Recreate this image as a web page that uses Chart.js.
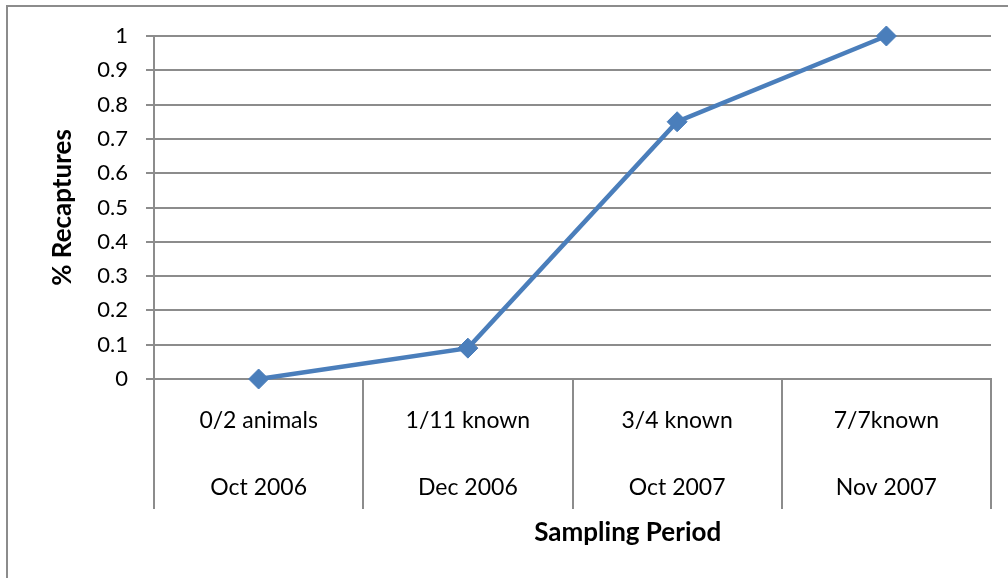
<!DOCTYPE html>
<html>
<head>
<meta charset="utf-8">
<title>% Recaptures by Sampling Period</title>
<script src="https://cdn.jsdelivr.net/npm/chart.js@4/dist/chart.umd.min.js"></script>
<style>
  html, body { margin: 0; padding: 0; background: #ffffff; }
  #wrap { position: relative; width: 1008px; height: 578px; }
</style>
</head>
<body>
<div id="wrap"><canvas id="chart" width="1008" height="578"></canvas></div>
<script>
// Recapture counts per sampling trip
const sampleCounts = ['0/2 animals', '1/11 known', '3/4 known', '7/7known'];
const samplingPeriods = ['Oct 2006', 'Dec 2006', 'Oct 2007', 'Nov 2007'];
const recaptureRate = [0, 0.09, 0.75, 1];

const yAxisTitle = '% Recaptures';
const xAxisTitle = 'Sampling Period';

const FONT = 'Lato, "Open Sans", "DejaVu Sans", sans-serif';
const GRID = '#8c8c8c';
const LINE = '#4a7ebb';

// Two-row category labels: count on top, period below
const labels = sampleCounts.map((c, i) => [c, samplingPeriods[i]]);

// Frame around the chart and the horizontal axis title
const framePlugin = {
  id: 'frame',
  beforeDraw(chart) {
    const ctx = chart.ctx;
    ctx.save();
    ctx.fillStyle = '#ffffff';
    ctx.fillRect(0, 0, chart.width, chart.height);
    ctx.strokeStyle = '#8c8c8c';
    ctx.lineWidth = 2;
    ctx.beginPath();
    ctx.moveTo(7, chart.height + 5);
    ctx.lineTo(7, 6);
    ctx.lineTo(chart.width + 5, 6);
    ctx.stroke();
    ctx.restore();
  },
  afterDraw(chart) {
    const ctx = chart.ctx;
    const area = chart.chartArea;
    ctx.save();
    ctx.fillStyle = '#000000';
    ctx.font = 'bold 26px ' + FONT;
    ctx.textAlign = 'center';
    ctx.textBaseline = 'middle';
    ctx.fillText(xAxisTitle, area.left + (area.right - area.left) * 0.566, area.bottom + 154);
    ctx.restore();
  }
};

new Chart(document.getElementById('chart'), {
  type: 'line',
  data: {
    labels: labels,
    datasets: [{
      data: recaptureRate,
      borderColor: LINE,
      backgroundColor: LINE,
      borderWidth: 4.5,
      pointStyle: 'rectRot',
      pointRadius: 10,
      pointHoverRadius: 10,
      pointBackgroundColor: LINE,
      pointBorderColor: LINE,
      pointBorderWidth: 1,
      tension: 0,
      fill: false,
      clip: false
    }]
  },
  options: {
    responsive: false,
    animation: false,
    events: [],
    layout: { padding: { top: 36, right: 17, bottom: 0, left: 0 } },
    plugins: {
      legend: { display: false },
      tooltip: { enabled: false },
      title: { display: false }
    },
    scales: {
      x: {
        type: 'category',
        offset: true,
        grid: {
          display: true,
          offset: true,
          drawOnChartArea: false,
          drawTicks: true,
          tickLength: 130,
          color: GRID,
          lineWidth: 2
        },
        border: { display: true, color: GRID, width: 2 },
        ticks: {
          color: '#000000',
          font: { family: FONT, size: 23, lineHeight: '67px' },
          padding: -121.5,
          maxRotation: 0,
          minRotation: 0,
          autoSkip: false
        },
        afterFit(scale) { scale.height = 199; }
      },
      y: {
        min: 0,
        max: 1,
        ticks: {
          stepSize: 0.1,
          color: '#000000',
          font: { family: FONT, size: 22 },
          padding: 18,
          callback: (v) => String(Math.round(v * 10) / 10)
        },
        grid: {
          color: GRID,
          lineWidth: 2,
          tickLength: 8,
          drawTicks: true
        },
        border: { display: true, color: GRID, width: 2 },
        title: {
          display: true,
          text: yAxisTitle,
          color: '#000000',
          font: { family: FONT, size: 26, weight: 'bold' },
          padding: { top: 47, bottom: 0 }
        },
        afterFit(scale) { scale.width = 154; }
      }
    }
  },
  plugins: [framePlugin]
});
</script>
</body>
</html>
